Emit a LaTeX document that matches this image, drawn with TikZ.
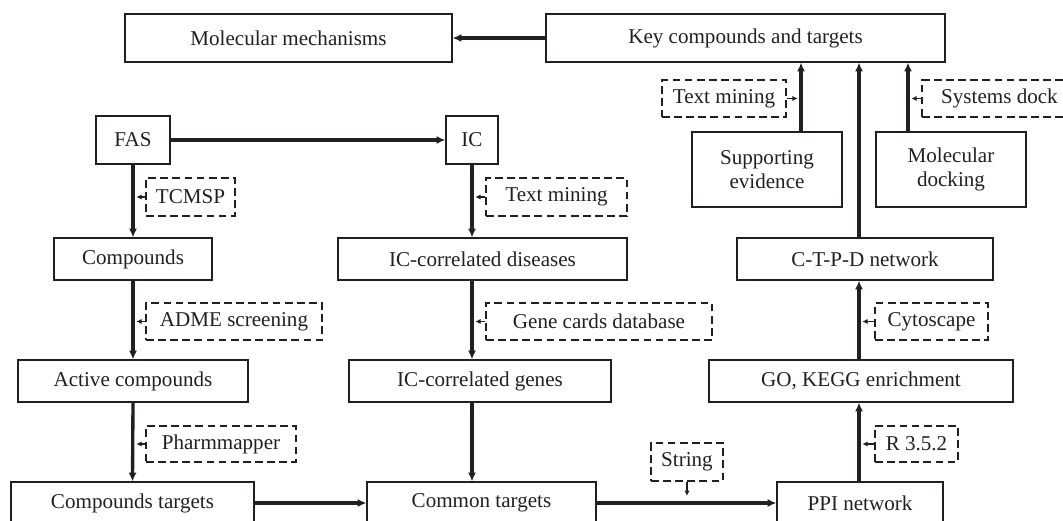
\documentclass[tikz,border=0pt]{standalone}
\usepackage{fontspec}
\setmainfont{Liberation Serif}
\usetikzlibrary{arrows.meta}
\definecolor{ink}{RGB}{35,31,32}
\begin{document}
\begin{tikzpicture}[x=0.02cm,y=-0.02cm,
  every node/.style={font=\fontsize{12}{13.8}\selectfont, text=ink, inner sep=0pt, align=center},
  solidbox/.style={draw=ink, line width=0.7pt, rectangle},
  dbox/.style={draw=ink, line width=0.7pt, rectangle, dash pattern=on 4.4pt off 2.5pt},
  mainarrow/.style={draw=ink, line width=1.9pt, -{Latex[length=5pt,width=4.6pt]}},
  tinyarrow/.style={draw=ink, line width=0.7pt, -{Latex[length=3pt,width=3pt]}}
]
\useasboundingbox (0,0) rectangle (1063,521);
\clip (0,0) rectangle (1063,521);
% solid boxes
\node[solidbox, minimum width=327*0.02cm, minimum height=48*0.02cm] (mm) at (288.5,38) {Molecular mechanisms};
\node[solidbox, minimum width=399*0.02cm, minimum height=48*0.02cm] (key) at (745.5,38) {Key compounds and targets};
\node[solidbox, minimum width=74*0.02cm, minimum height=48*0.02cm] (fas) at (133,140) {FAS};
\node[solidbox, minimum width=52*0.02cm, minimum height=48*0.02cm] (ic) at (472,140) {IC};
\node[solidbox, minimum width=158*0.02cm, minimum height=42*0.02cm] (comp) at (133,259) {Compounds};
\node[solidbox, minimum width=289*0.02cm, minimum height=42*0.02cm] (icd) at (482.5,259) {IC-correlated diseases};
\node[solidbox, minimum width=230*0.02cm, minimum height=42*0.02cm] (act) at (133,381) {Active compounds};
\node[solidbox, minimum width=262*0.02cm, minimum height=42*0.02cm] (icg) at (480,381) {IC-correlated genes};
\node[solidbox, minimum width=243*0.02cm, minimum height=42*0.02cm] (ct) at (132.5,503) {Compounds targets};
\node[solidbox, minimum width=229*0.02cm, minimum height=42*0.02cm] (common) at (481.5,503) {Common targets};
\node[solidbox, minimum width=166*0.02cm, minimum height=42*0.02cm] (ppi) at (860,503) {PPI network};
\node[solidbox, minimum width=304*0.02cm, minimum height=42*0.02cm] (go) at (861,381) {GO, KEGG enrichment};
\node[solidbox, minimum width=256*0.02cm, minimum height=42*0.02cm] (ctpd) at (865,259) {C-T-P-D network};
\node[solidbox, minimum width=150*0.02cm, minimum height=75*0.02cm] (sup) at (767,169.5) {Supporting\\evidence};
\node[solidbox, minimum width=150*0.02cm, minimum height=75*0.02cm] (md) at (951,169.5) {Molecular\\docking};
% dashed boxes
\node[dbox, minimum width=89*0.02cm, minimum height=38*0.02cm] (tcmsp) at (190.5,197) {TCMSP};
\node[dbox, minimum width=141*0.02cm, minimum height=38*0.02cm] (tmA) at (556.5,197) {Text mining};
\node[dbox, minimum width=176*0.02cm, minimum height=37*0.02cm] (adme) at (234,321.5) {ADME screening};
\node[dbox, minimum width=226*0.02cm, minimum height=37*0.02cm] (gene) at (599,321.5) {Gene cards database};
\node[dbox, minimum width=150*0.02cm, minimum height=36*0.02cm] (pharm) at (221,444) {Pharmmapper};
\node[dbox, minimum width=72*0.02cm, minimum height=38*0.02cm] (string) at (687,462) {String};
\node[dbox, minimum width=83*0.02cm, minimum height=36*0.02cm] (rver) at (916.5,444) {R 3.5.2};
\node[dbox, minimum width=113*0.02cm, minimum height=37*0.02cm] (cyto) at (931.5,321.5) {Cytoscape};
\node[dbox, minimum width=124*0.02cm, minimum height=37*0.02cm] (tmB) at (724,98.5) {Text mining};
\node[dbox, minimum width=155*0.02cm, minimum height=37*0.02cm] (sysd) at (999.5,98.5) {Systems dock};
% main column coordinates
\coordinate (xL) at (133,0);
\coordinate (xM) at (472,0);
\coordinate (xR) at (859,0);
\coordinate (xS) at (801,0);
\coordinate (xD) at (908,0);
% main arrows
\draw[mainarrow] (key.west) -- (mm.east);
\draw[mainarrow] (fas.east) -- (ic.west);
\draw[mainarrow] (fas.south) -- (comp.north);
\draw[mainarrow] (comp.south) -- (act.north);
\draw[mainarrow] (act.south) -- (ct.north);
\draw[mainarrow] (ic.south) -- (ic.south |- icd.north);
\draw[mainarrow] (xM |- icd.south) -- (xM |- icg.north);
\draw[mainarrow] (xM |- icg.south) -- (xM |- common.north);
\draw[mainarrow] (ct.east) -- (common.west);
\draw[mainarrow] (common.east) -- (ppi.west);
\draw[mainarrow] (xR |- ppi.north) -- (xR |- go.south);
\draw[mainarrow] (xR |- go.north) -- (xR |- ctpd.south);
\draw[mainarrow] (xR |- ctpd.north) -- (xR |- key.south);
\draw[mainarrow] (xS |- sup.north) -- (xS |- key.south);
\draw[mainarrow] (xD |- md.north) -- (xD |- key.south);
% tiny arrows from dashed boxes
\draw[tinyarrow] (tcmsp.west) -- ([xshift=1.9pt]xL |- tcmsp.west);
\draw[tinyarrow] (adme.west) -- ([xshift=1.9pt]xL |- adme.west);
\draw[tinyarrow] (pharm.west) -- ([xshift=1.9pt]xL |- pharm.west);
\draw[tinyarrow] (tmA.west) -- ([xshift=1.9pt]xM |- tmA.west);
\draw[tinyarrow] (gene.west) -- ([xshift=1.9pt]xM |- gene.west);
\draw[tinyarrow] (rver.west) -- ([xshift=1.9pt]xR |- rver.west);
\draw[tinyarrow] (cyto.west) -- ([xshift=1.9pt]xR |- cyto.west);
\draw[tinyarrow] (tmB.east) -- ([xshift=-1.9pt]xS |- tmB.east);
\draw[tinyarrow] (sysd.west) -- ([xshift=1.9pt]xD |- sysd.west);
\draw[tinyarrow] (string.south) -- ([yshift=4pt]string.south |- common.east);
\end{tikzpicture}
\end{document}
